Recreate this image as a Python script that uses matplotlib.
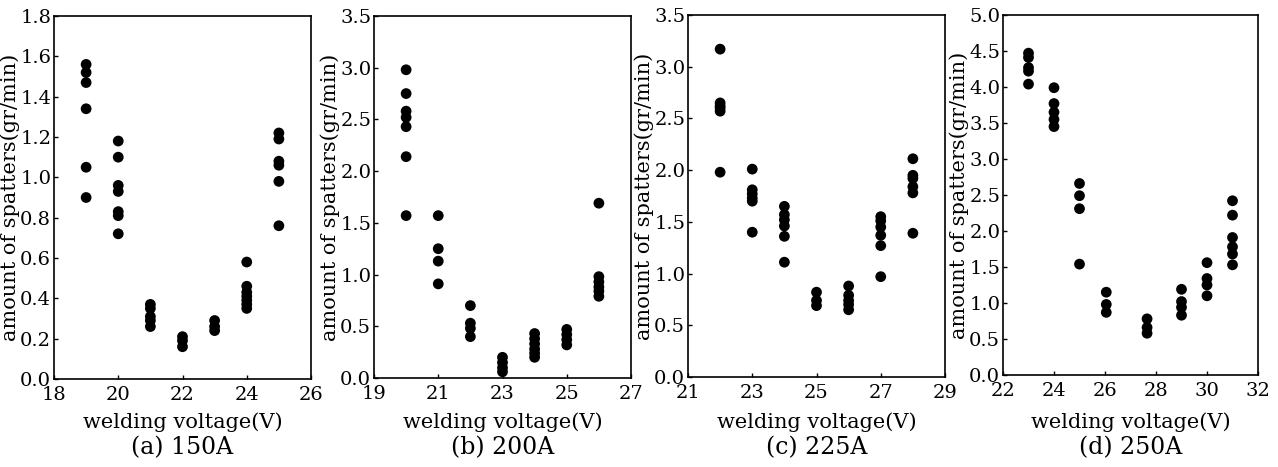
import numpy as np
import matplotlib
matplotlib.use('Agg')
import matplotlib.pyplot as plt

plt.rcParams['font.family'] = ['DejaVu Serif']

# (a) 150A
volt_a = [19, 20, 21, 22, 23, 24, 25]
spat_a = [[1.56, 1.52, 1.47, 1.34, 1.05, 0.90],
          [1.18, 1.10, 0.96, 0.93, 0.83, 0.81, 0.72],
          [0.37, 0.35, 0.31, 0.29, 0.26],
          [0.21, 0.19, 0.16],
          [0.29, 0.26, 0.24],
          [0.58, 0.46, 0.43, 0.41, 0.39, 0.37, 0.35],
          [1.22, 1.19, 1.08, 1.06, 0.98, 0.76]]

# (b) 200A
volt_b = [20, 21, 22, 23, 24, 25, 26]
spat_b = [[2.98, 2.75, 2.58, 2.52, 2.43, 2.14, 1.57],
          [1.57, 1.25, 1.13, 0.91],
          [0.70, 0.53, 0.48, 0.40],
          [0.20, 0.15, 0.10, 0.06],
          [0.43, 0.38, 0.33, 0.28, 0.24, 0.20],
          [0.47, 0.42, 0.37, 0.32],
          [1.69, 0.98, 0.93, 0.88, 0.84, 0.79]]

# (c) 225A
volt_c = [22, 23, 24, 25, 26, 27, 28]
spat_c = [[3.17, 2.65, 2.62, 2.60, 2.57, 1.98],
          [2.01, 1.81, 1.77, 1.73, 1.70, 1.40],
          [1.65, 1.57, 1.52, 1.46, 1.36, 1.11],
          [0.82, 0.74, 0.69],
          [0.88, 0.79, 0.74, 0.70, 0.65],
          [1.55, 1.51, 1.45, 1.37, 1.27, 0.97],
          [2.11, 1.95, 1.92, 1.84, 1.78, 1.39]]

# (d) 250A
volt_d = [23, 24, 25, 26.05, 27.65, 29, 30, 31]
spat_d = [[4.47, 4.41, 4.27, 4.22, 4.04],
          [3.99, 3.77, 3.65, 3.55, 3.45],
          [2.66, 2.49, 2.31, 1.54],
          [1.15, 0.98, 0.87],
          [0.78, 0.66, 0.58],
          [1.19, 1.02, 0.94, 0.83],
          [1.56, 1.34, 1.25, 1.10],
          [2.42, 2.22, 1.91, 1.78, 1.68, 1.53]]

panels = [
    (volt_a, spat_a, (18, 26), np.arange(18, 27, 2), (0, 1.8), np.arange(0, 1.81, 0.2), '(a) 150A'),
    (volt_b, spat_b, (19, 27), np.arange(19, 28, 2), (0, 3.5), np.arange(0, 3.51, 0.5), '(b) 200A'),
    (volt_c, spat_c, (21, 29), np.arange(21, 30, 2), (0, 3.5), np.arange(0, 3.51, 0.5), '(c) 225A'),
    (volt_d, spat_d, (22, 32), np.arange(22, 33, 2), (0, 5.0), np.arange(0, 5.01, 0.5), '(d) 250A'),
]

# axes boxes in pixels: left, right, top, bottom
boxes = [(54, 311, 16, 379), (374, 631, 16, 378), (688, 945, 15, 377), (1003, 1258, 15, 375)]

W, H = 1278, 467
fig = plt.figure(figsize=(W / 100, H / 100), dpi=100)

for (volts, spats, xl, xt, yl, yt, cap), (l, r, t, b) in zip(panels, boxes):
    ax = fig.add_axes([l / W, 1 - b / H, (r - l) / W, (b - t) / H])
    for v, s in zip(volts, spats):
        ax.scatter([v] * len(s), s, s=60, c='black', edgecolors='none', zorder=3)
    ax.set_xlim(*xl)
    ax.set_ylim(*yl)
    ax.set_xticks(xt)
    ax.set_yticks(yt)
    ax.set_yticklabels(['%.1f' % y for y in yt])
    ax.tick_params(direction='in', length=3, width=1, labelsize=14)
    ax.tick_params(axis='x', pad=5)
    ax.tick_params(axis='y', pad=2)
    for sp in ax.spines.values():
        sp.set_linewidth(1.2)
    ax.set_ylabel('amount of spatters(gr/min)', fontsize=15, labelpad=0)
    xc = (l + r) / 2 / W
    fig.text(xc, 1 - 422 / H, 'welding voltage(V)', ha='center', va='center', fontsize=15)
    fig.text(xc, 1 - 448 / H, cap, ha='center', va='center', fontsize=17)

fig.savefig('out.png', dpi=100)
